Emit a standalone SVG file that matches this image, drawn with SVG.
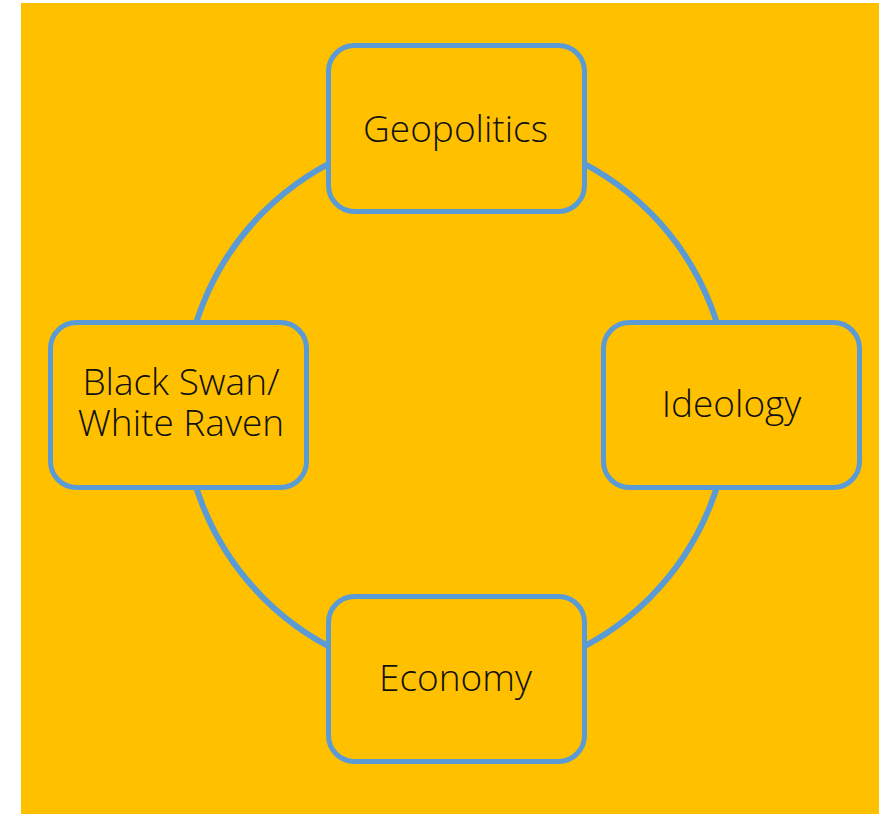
<svg xmlns="http://www.w3.org/2000/svg" width="879" height="814" viewBox="0 0 879 814">
<style>
.node rect{fill:#FFC000;stroke:#5B9BD5;stroke-width:5}
.node text{font-family:"Open Sans","Noto Sans","Liberation Sans",sans-serif;font-weight:300;font-size:37px;fill:#111;text-anchor:middle}
.conn{fill:none;stroke:#5B9BD5;stroke-width:6}
</style>
<rect x="21" y="3" width="858" height="811" fill="#FFC000"/>
<g id="connectors">
<circle class="conn" cx="456.5" cy="405" r="273"/>
</g>
<g id="geopolitics" class="node">
<rect x="328.5" y="45.5" width="256" height="166" rx="26"/>
<text x="455.5" y="142">Geopolitics</text>
</g>
<g id="ideology" class="node">
<rect x="603.5" y="322.5" width="256" height="165" rx="26"/>
<text x="731.5" y="417">Ideology</text>
</g>
<g id="blackswan" class="node">
<rect x="50.5" y="322.5" width="256" height="165" rx="26"/>
<text x="181" y="395">Black Swan/</text>
<text x="181" y="436">White Raven</text>
</g>
<g id="economy" class="node">
<rect x="328.5" y="596.5" width="256" height="165" rx="26"/>
<text x="455.5" y="691">Economy</text>
</g>
</svg>
